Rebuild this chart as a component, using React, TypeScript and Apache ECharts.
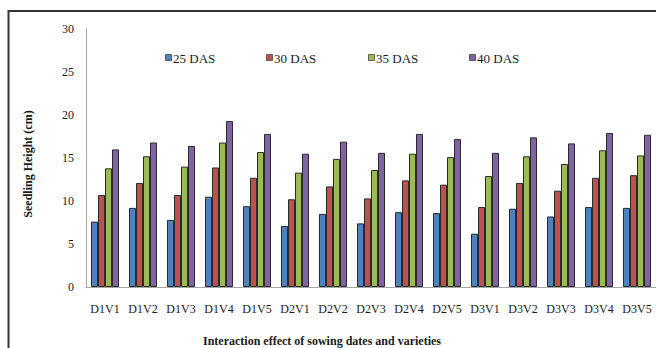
import React, { useEffect, useRef } from "react";
import * as echarts from "echarts";

const categories = [
  "D1V1", "D1V2", "D1V3", "D1V4", "D1V5",
  "D2V1", "D2V2", "D2V3", "D2V4", "D2V5",
  "D3V1", "D3V2", "D3V3", "D3V4", "D3V5",
];
const seriesNames = ["25 DAS", "30 DAS", "35 DAS", "40 DAS"];
const das25 = [7.6, 9.2, 7.8, 10.5, 9.4, 7.1, 8.5, 7.4, 8.7, 8.6, 6.2, 9.1, 8.2, 9.3, 9.2];
const das30 = [10.7, 12.1, 10.7, 13.9, 12.7, 10.2, 11.7, 10.3, 12.4, 11.9, 9.3, 12.1, 11.2, 12.7, 13.0];
const das35 = [13.8, 15.2, 14.0, 16.8, 15.7, 13.3, 14.9, 13.6, 15.5, 15.1, 12.9, 15.2, 14.3, 15.9, 15.3];
const das40 = [16.0, 16.8, 16.4, 19.3, 17.8, 15.5, 16.9, 15.6, 17.8, 17.2, 15.6, 17.4, 16.7, 17.9, 17.7];
const yTicks = { min: 0, max: 30, interval: 5 };
const colors = ["#4F81BD", "#C0504D", "#9BBB59", "#8064A2"];

const FONT = "Liberation Serif";
const legendLefts = [165, 266, 368, 469];

export default function App() {
  const ref = useRef<HTMLDivElement>(null);
  useEffect(() => {
    if (!ref.current) return;
    const chart = echarts.init(ref.current, null, { renderer: "svg" });
    const values = [das25, das30, das35, das40];
    const legendGraphics: any[] = [];
    seriesNames.forEach((name, i) => {
      legendGraphics.push({
        type: "rect",
        shape: { x: legendLefts[i] + 0.5, y: 54.5, width: 6, height: 6 },
        style: { fill: colors[i], stroke: "#444", lineWidth: 0.8 },
        silent: true,
      });
      legendGraphics.push({
        type: "text",
        x: legendLefts[i] + 8,
        y: 58,
        style: {
          text: name,
          fontFamily: FONT,
          fontSize: 13,
          fill: "#1a1a1a",
          verticalAlign: "middle",
          align: "left",
        },
        silent: true,
      });
    });
    chart.setOption({
      animation: false,
      backgroundColor: "#ffffff",
      textStyle: { fontFamily: FONT },
      title: {
        text: "Interaction effect of sowing dates and varieties",
        left: 198,
        top: 330,
        textStyle: { fontFamily: FONT, fontSize: 12, fontWeight: "bold", color: "#1a1a1a" },
      },
      grid: { left: 86, right: 0, top: 29, bottom: 61, containLabel: false },
      xAxis: {
        type: "category",
        data: categories,
        axisLine: { lineStyle: { color: "#a6a6a6", width: 1 } },
        axisTick: { show: false },
        axisLabel: { fontFamily: FONT, fontSize: 12, color: "#1a1a1a", margin: 16, interval: 0 },
      },
      yAxis: {
        type: "value",
        min: yTicks.min,
        max: yTicks.max,
        interval: yTicks.interval,
        name: "Seedling Height (cm)",
        nameLocation: "middle",
        nameGap: 52,
        nameTextStyle: { fontFamily: FONT, fontSize: 12, fontWeight: "bold", color: "#1a1a1a", padding: [0, 0, 0, -12] },
        axisLine: { show: true, lineStyle: { color: "#a6a6a6", width: 1 } },
        axisTick: { show: false },
        splitLine: { show: false },
        axisLabel: { fontFamily: FONT, fontSize: 12, color: "#1a1a1a", margin: 12 },
      },
      series: seriesNames.map((name, i) => ({
        name,
        type: "bar",
        data: values[i],
        barWidth: 7,
        barGap: "0%",
        itemStyle: { color: colors[i], borderColor: "#2a2a2a", borderWidth: 1 },
      })),
      graphic: [
        ...legendGraphics,
        {
          type: "rect",
          shape: { x: 8.5, y: 11, width: 700, height: 400 },
          style: { fill: "none", stroke: "#333333", lineWidth: 2 },
          silent: true,
          z: 100,
        },
      ],
    });
    return () => chart.dispose();
  }, []);
  return (
    <div
      ref={ref}
      style={{ position: "fixed", left: 0, top: 0, width: 656, height: 348 }}
    />
  );
}
